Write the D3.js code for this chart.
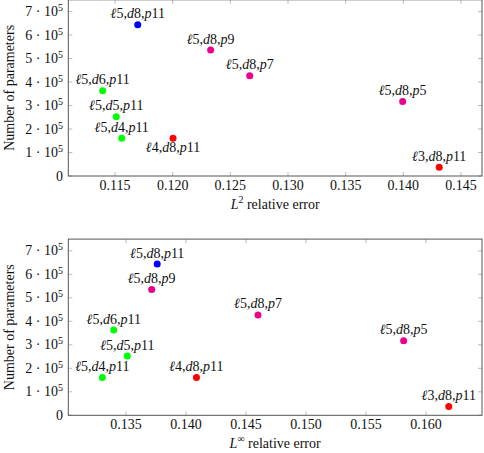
<!doctype html>
<html>
  <head>
    <meta charset="utf-8">
    <script src="https://cdn.jsdelivr.net/npm/d3@7"></script>
    <style>
      body { margin: 0; background: white; }
      svg text { font-family: 'Liberation Serif', serif; font-size: 14px; fill: #111; }
      .frame { fill: none; stroke: #555; stroke-width: 1; }
      .tick-mark { stroke: #aaa; stroke-width: 0.8; }
    </style>
  </head>
  <body>
    <svg id="chart"></svg>
  <script>

    // model configs: level, depth, polynomial degree
    const ell    = [5, 5, 5, 5, 3, 5, 5, 5, 4]
    const depth  = [8, 8, 8, 8, 8, 6, 5, 4, 8]
    const degree = [11, 9, 7, 5, 11, 11, 11, 11, 11]
    const groups = ["base", "degree", "degree", "degree", "level", "depth", "depth", "depth", "level"]

    const params  = [6.44e5, 5.36e5, 4.27e5, 3.17e5, 0.37e5, 3.63e5, 2.52e5, 1.61e5, 1.61e5]
    const l2Err   = [0.11697, 0.12329, 0.12668, 0.13994, 0.14311, 0.11393, 0.11511, 0.11558, 0.12003]
    const linfErr = [0.13760, 0.13714, 0.14600, 0.15814, 0.16190, 0.13398, 0.13511, 0.13303, 0.14087]

    const l2Place   = ["above", "above", "above", "above", "above", "above", "above", "above", "below"]
    const linfPlace = ["above", "above", "above", "above", "above", "above", "above", "above", "above"]

    const l2Ticks   = [0.115, 0.120, 0.125, 0.130, 0.135, 0.140, 0.145]
    const linfTicks = [0.135, 0.140, 0.145, 0.150, 0.155, 0.160]
    const yTicks    = [0, 1e5, 2e5, 3e5, 4e5, 5e5, 6e5, 7e5]

    const width = 484, height = 453
    const color = d3.scaleOrdinal()
                    .domain(["base", "degree", "level", "depth"])
                    .range(["#0000ff", "#ec008c", "#ff0000", "#00ff00"])

    const svg = d3.select("#chart")
                  .attr("width", width)
                  .attr("height", height)

    function drawPanel(opts) {
      const left = 68.3, right = 482
      const top = opts.top, bottom = opts.top + 176.2

      const x = d3.scaleLinear().domain(opts.xDomain).range([left, right])
      const y = d3.scaleLinear().domain([0, 7.5e5]).range([bottom, top])

      const g = svg.append("g")

      // ticks on all four sides, pointing inward
      const xt = g.append("g")
      xt.selectAll(".xb").data(opts.xTicks).enter().append("line")
          .attr("class", "tick-mark")
          .attr("x1", x).attr("x2", x)
          .attr("y1", bottom).attr("y2", bottom - 4)
      xt.selectAll(".xtp").data(opts.xTicks).enter().append("line")
          .attr("class", "tick-mark")
          .attr("x1", x).attr("x2", x)
          .attr("y1", top).attr("y2", top + 4)
      xt.selectAll("text").data(opts.xTicks).enter().append("text")
          .attr("x", x)
          .attr("y", bottom + 14)
          .attr("text-anchor", "middle")
          .text(d3.format(".3f"))

      const yt = g.append("g")
      yt.selectAll(".yl").data(yTicks).enter().append("line")
          .attr("class", "tick-mark")
          .attr("x1", left).attr("x2", left + 4)
          .attr("y1", y).attr("y2", y)
      yt.selectAll(".yr").data(yTicks).enter().append("line")
          .attr("class", "tick-mark")
          .attr("x1", right).attr("x2", right - 4)
          .attr("y1", y).attr("y2", y)
      const ylab = yt.selectAll("text").data(yTicks).enter().append("text")
          .attr("x", 63)
          .attr("y", (d) => y(d) + 4.5)
          .attr("text-anchor", "end")
      ylab.each(function(d) {
        const t = d3.select(this)
        if (d === 0) { t.text("0"); return }
        t.append("tspan").text((d / 1e5) + " · 10")
        t.append("tspan").attr("dy", -5).attr("font-size", "10px").text("5")
      })

      g.append("rect")
          .attr("class", "frame")
          .attr("x", left).attr("y", top)
          .attr("width", right - left).attr("height", bottom - top)

      // axis titles
      const xtitle = g.append("text")
          .attr("x", (left + right) / 2)
          .attr("y", bottom + 33)
          .attr("text-anchor", "middle")
      xtitle.append("tspan").attr("font-style", "italic").text("L")
      xtitle.append("tspan").attr("dy", -6).attr("font-size", "10px").text(opts.norm)
      xtitle.append("tspan").attr("dy", 6).text(" relative error")

      g.append("text")
          .attr("transform", "translate(14," + ((top + bottom) / 2) + ") rotate(-90)")
          .attr("text-anchor", "middle")
          .text("Number of parameters")

      // points + labels
      const idx = d3.range(params.length)
      g.selectAll("circle").data(idx).enter().append("circle")
          .attr("cx", (i) => x(opts.err[i]))
          .attr("cy", (i) => y(params[i]))
          .attr("r", 3.5)
          .attr("fill", (i) => color(groups[i]))

      const lab = g.selectAll(".pt-label").data(idx).enter().append("text")
          .attr("class", "pt-label")
          .attr("x", (i) => x(opts.err[i]))
          .attr("y", (i) => y(params[i]) + (opts.place[i] === "below" ? 14 : -6.5))
          .attr("text-anchor", "middle")
      lab.each(function(i) {
        const t = d3.select(this)
        t.append("tspan").attr("font-style", "italic").text("ℓ")
        t.append("tspan").text(ell[i] + ",")
        t.append("tspan").attr("font-style", "italic").text("d")
        t.append("tspan").text(depth[i] + ",")
        t.append("tspan").attr("font-style", "italic").text("p")
        t.append("tspan").text(degree[i])
      })
    }

    drawPanel({ top: -0.2, xDomain: [0.11095, 0.14682], xTicks: l2Ticks, err: l2Err, place: l2Place, norm: "2" })
    drawPanel({ top: 239.1, xDomain: [0.13019, 0.16467], xTicks: linfTicks, err: linfErr, place: linfPlace, norm: "∞" })

  </script>
  </body>
</html>
